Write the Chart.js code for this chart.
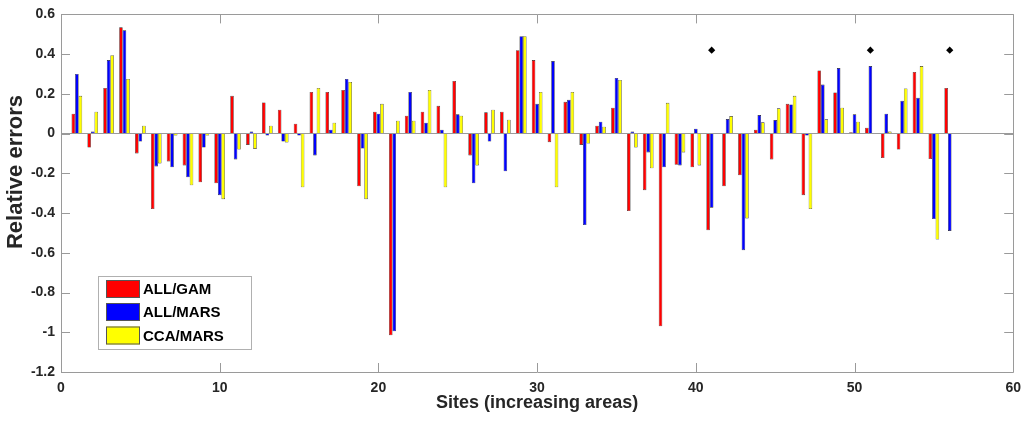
<!DOCTYPE html>
<html>
<head>
<meta charset="utf-8">
<script src="https://cdn.jsdelivr.net/npm/chart.js@4.4.1/dist/chart.umd.min.js"></script>
<style>
  html, body { margin: 0; padding: 0; background: #fff; }
  canvas { display: block; }
</style>
</head>
<body>
<canvas id="chart" width="1029" height="423"></canvas>
<script>
// Relative errors per site, three model combos
const sites = [1,2,3,4,5,6,7,8,9,10,11,12,13,14,15,16,17,18,19,20,
  21,22,23,24,25,26,27,28,29,30,31,32,33,34,35,36,37,38,39,40,
  41,42,43,44,45,46,47,48,49,50,51,52,53,54,55,56];

const allGam = [0.10,-0.07,0.23,0.535,-0.10,-0.38,-0.14,-0.16,-0.245,-0.25,
  0.19,-0.057,0.157,0.12,0.05,0.21,0.21,0.22,-0.265,0.11,
  -1.015,0.09,0.11,0.14,0.265,-0.11,0.107,0.11,0.42,0.37,
  -0.043,0.16,-0.057,0.04,0.13,-0.39,-0.285,-0.97,-0.157,-0.17,
  -0.487,-0.265,-0.21,0.02,-0.13,0.15,-0.31,0.318,0.207,0.007,
  0.03,-0.123,-0.08,0.31,-0.128,0.23];

const allMars = [0.30,0.01,0.37,0.52,-0.04,-0.165,-0.17,-0.22,-0.07,-0.31,
  -0.13,0.01,-0.01,-0.04,-0.01,-0.11,0.02,0.275,-0.075,0.10,
  -0.995,0.21,0.055,0.02,0.097,-0.25,-0.04,-0.19,0.49,0.15,
  0.365,0.17,-0.46,0.06,0.28,0.01,-0.095,-0.17,-0.16,0.025,
  -0.373,0.073,-0.587,0.093,0.068,0.147,-0.01,0.247,0.33,0.097,
  0.34,0.10,0.165,0.18,-0.43,-0.49];

const ccaMars = [0.19,0.11,0.395,0.275,0.04,-0.15,-0.01,-0.26,-0.01,-0.33,
  -0.08,-0.077,0.04,-0.045,-0.27,0.23,0.055,0.26,-0.33,0.15,
  0.065,0.065,0.22,-0.27,0.09,-0.16,0.12,0.07,0.49,0.21,
  -0.27,0.21,-0.05,0.035,0.27,-0.07,-0.175,0.155,-0.095,-0.16,
  null,0.088,-0.427,0.057,0.127,0.19,-0.38,0.072,0.13,0.06,
  null,0.01,0.227,0.34,-0.533,null];

// diamonds marking sites without CCA/MARS value
const markSites = [41, 51, 56];
const markValues = [0.42, 0.42, 0.42];

const seriesLabels = ["ALL/GAM", "ALL/MARS", "CCA/MARS"];
const seriesColors = ["#ff0000", "#0000ff", "#ffff00"];
const yTitle = "Relative errors";

const FONT = "'Liberation Sans', Arial, Helvetica, sans-serif";
const AXIS_COLOR = "#9a9a9a";
const TEXT_COLOR = "#262626";

function pts(xs, ys) { return xs.map((x, i) => ({ x, y: ys[i] })); }

// box + inward tick marks on all four sides (MATLAB look)
const boxTicks = {
  id: "boxTicks",
  afterDatasetsDraw(chart) {
    const { ctx, chartArea: a, scales } = chart;
    const tl = 9;
    ctx.save();
    ctx.strokeStyle = AXIS_COLOR;
    ctx.lineWidth = 1;
    ctx.beginPath();
    ctx.rect(Math.round(a.left) + 0.5, Math.round(a.top) + 0.5,
      Math.round(a.right - a.left), Math.round(a.bottom - a.top));
    for (const t of scales.x.ticks) {
      const px = Math.round(scales.x.getPixelForValue(t.value)) + 0.5;
      ctx.moveTo(px, a.bottom); ctx.lineTo(px, a.bottom - tl);
      ctx.moveTo(px, a.top); ctx.lineTo(px, a.top + tl);
    }
    for (const t of scales.y.ticks) {
      const py = Math.round(scales.y.getPixelForValue(t.value)) + 0.5;
      ctx.moveTo(a.left, py); ctx.lineTo(a.left + tl, py);
      ctx.moveTo(a.right, py); ctx.lineTo(a.right - tl, py);
    }
    ctx.stroke();
    ctx.restore();
  }
};

// y label sits a bit above the axis centre in the original, so draw it here
const yLabel = {
  id: "yLabel",
  afterDraw(chart) {
    const ctx = chart.ctx;
    ctx.save();
    ctx.translate(16, 172);
    ctx.rotate(-Math.PI / 2);
    ctx.font = "bold 22px " + FONT;
    ctx.fillStyle = TEXT_COLOR;
    ctx.textAlign = "center";
    ctx.textBaseline = "middle";
    ctx.fillText(yTitle, 0, 0);
    ctx.restore();
  }
};

// legend box inside the plot, lower left
const insideLegend = {
  id: "insideLegend",
  afterDraw(chart) {
    const ctx = chart.ctx;
    const bx = 98, by = 276, bw = 153, bh = 73;
    ctx.save();
    ctx.fillStyle = "#fff";
    ctx.fillRect(bx, by, bw, bh);
    ctx.strokeStyle = "#b0b0b0";
    ctx.lineWidth = 1;
    ctx.strokeRect(bx + 0.5, by + 0.5, bw, bh);
    ctx.font = "bold 15px " + FONT;
    ctx.textBaseline = "middle";
    const rows = [289, 312, 335.5];
    seriesLabels.forEach((lab, i) => {
      ctx.fillStyle = seriesColors[i];
      ctx.fillRect(106, rows[i] - 9, 34, 18);
      ctx.strokeStyle = "#555";
      ctx.strokeRect(106.5, rows[i] - 8.5, 33, 17);
      ctx.fillStyle = "#000";
      ctx.fillText(lab, 143, rows[i] + 1);
    });
    ctx.restore();
  }
};

const barSets = [allGam, allMars, ccaMars].map((vals, i) => ({
  type: "bar",
  label: seriesLabels[i],
  data: pts(sites, vals),
  backgroundColor: seriesColors[i],
  borderColor: "#222",
  borderWidth: 0.6,
  categoryPercentage: 0.67,
  barPercentage: 1.0,
  order: 2
}));

new Chart(document.getElementById("chart"), {
  type: "bar",
  data: {
    datasets: [
      ...barSets,
      {
        type: "line",
        label: "missing",
        data: pts(markSites, markValues),
        showLine: false,
        pointStyle: "rectRot",
        pointRadius: 3.6,
        pointBackgroundColor: "#000",
        pointBorderColor: "#000",
        pointBorderWidth: 0,
        order: 1
      }
    ]
  },
  options: {
    responsive: false,
    animation: false,
    devicePixelRatio: 1,
    layout: { padding: { left: 0, right: 13, top: 12, bottom: 0 } },
    plugins: { legend: { display: false }, tooltip: { enabled: false } },
    scales: {
      x: {
        type: "linear",
        min: 0, max: 60,
        offset: false,
        grid: { display: false, drawTicks: false, offset: false },
        border: { display: false },
        ticks: {
          stepSize: 10, maxRotation: 0, autoSkip: false, padding: 8,
          color: TEXT_COLOR, font: { family: FONT, size: 14, weight: "bold" }
        },
        title: {
          display: true, text: "Sites (increasing areas)", color: TEXT_COLOR,
          font: { family: FONT, size: 18, weight: "bold" },
          padding: { top: 0, bottom: 9 }
        },
        afterFit: s => { s.height = 51; }
      },
      y: {
        min: -1.2, max: 0.6,
        grid: {
          drawTicks: false,
          color: c => (Math.abs(c.tick.value) < 1e-9 ? AXIS_COLOR : "rgba(0,0,0,0)"),
          lineWidth: 1
        },
        border: { display: false },
        ticks: {
          stepSize: 0.2, padding: 6,
          color: TEXT_COLOR, font: { family: FONT, size: 14, weight: "bold" },
          callback: v => String(+Number(v).toFixed(1))
        },
        afterFit: s => { s.width = 61; }
      }
    }
  },
  plugins: [boxTicks, yLabel, insideLegend]
});
</script>
</body>
</html>
